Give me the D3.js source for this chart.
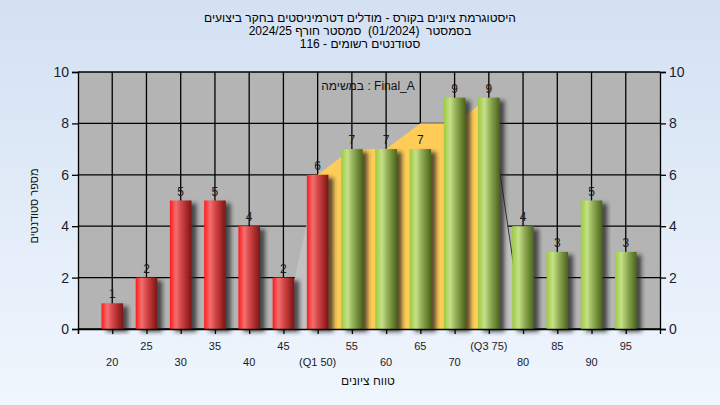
<!DOCTYPE html>
<html>
<head>
<meta charset="utf-8">
<script src="https://cdn.jsdelivr.net/npm/d3@7"></script>
<style>
  body { margin: 0; }
  svg text { font-family: "Liberation Sans", Arial, sans-serif; }
</style>
</head>
<body>
<div id="chart"></div>
<script>
// grades (bin centres) and student counts
const scores = [20, 25, 30, 35, 40, 45, 50, 55, 60, 65, 70, 75, 80, 85, 90, 95];
const counts = [1, 2, 5, 5, 4, 2, 6, 7, 7, 7, 9, 9, 4, 3, 5, 3];
const tickLabels = ["20", "25", "30", "35", "40", "45", "(Q1 50)", "55", "60", "65", "70", "(Q3 75)", "80", "85", "90", "95"];
// background shape, quartile band filled between Q1 and Q3
const curveScores = [45, 50, 55, 60, 65, 70, 75, 80];
const curveValues = [0, 6, 7, 7, 8, 8, 9, 0];
const q1 = 50, q3 = 75;
const yTicks = [0, 2, 4, 6, 8, 10];
const titleLines = [
  "היסטוגרמת ציונים בקורס - מודלים דטרמיניסטים בחקר ביצועים",
  "בסמסטר  (01/2024)  סמסטר חורף 2024/25",
  "סטודנטים רשומים - 116"
];

const width = 720, height = 405;
const plotLeft = 78, plotRight = 660, plotTop = 72, plotBottom = 329;

const svg = d3.select("#chart").append("svg")
  .attr("width", width).attr("height", height);

const defs = svg.append("defs");
const bg = defs.append("linearGradient").attr("id", "bg")
  .attr("x1", 0).attr("y1", 0).attr("x2", 0).attr("y2", 1);
bg.append("stop").attr("offset", "0%").attr("stop-color", "#d3e1f3");
bg.append("stop").attr("offset", "100%").attr("stop-color", "#f0f6fd");

function barGradient(id, stops) {
  const g = defs.append("linearGradient").attr("id", id)
    .attr("x1", 0).attr("y1", 0).attr("x2", 1).attr("y2", 0);
  stops.forEach(s => g.append("stop").attr("offset", s[0]).attr("stop-color", s[1]));
}
barGradient("red", [["0%", "#ff1c1c"], ["28%", "#f07070"], ["50%", "#d84848"], ["100%", "#7c1414"]]);
barGradient("green", [["0%", "#9ccc3c"], ["30%", "#c6e08a"], ["55%", "#94b058"], ["100%", "#4a6418"]]);

const shadow = defs.append("filter").attr("id", "shadow")
  .attr("x", "-20%").attr("y", "-10%").attr("width", "160%").attr("height", "130%");
shadow.append("feDropShadow").attr("dx", 5).attr("dy", 3).attr("stdDeviation", 2)
  .attr("flood-color", "#222").attr("flood-opacity", 0.75);

svg.append("rect").attr("width", width).attr("height", height).attr("fill", "url(#bg)");

const x = d3.scaleLinear().domain([15, 100]).range([plotLeft, plotRight]);
const y = d3.scaleLinear().domain([0, 10]).range([plotBottom, plotTop]);
const barW = (x(20) - x(15)) * 0.63;

// plot background
svg.append("rect").attr("x", plotLeft).attr("y", plotTop)
  .attr("width", plotRight - plotLeft).attr("height", plotBottom - plotTop).attr("fill", "#b4b4b4");

// grid
svg.append("g").selectAll("line").data(yTicks).enter().append("line")
  .attr("x1", plotLeft).attr("x2", plotRight).attr("y1", d => y(d)).attr("y2", d => y(d))
  .attr("stroke", "#000").attr("stroke-width", 1.3);
svg.append("g").selectAll("line").data(scores).enter().append("line")
  .attr("x1", d => x(d)).attr("x2", d => x(d)).attr("y1", plotTop).attr("y2", plotBottom)
  .attr("stroke", "#000").attr("stroke-width", 1.3);

// background curve
const curve = curveScores.map((s, i) => ({ s: s, v: curveValues[i] }));
const area = d3.area().x(d => x(d.s)).y0(y(0)).y1(d => y(d.v));
svg.append("path").datum(curve).attr("d", area).attr("fill", "#c2c2c2");
svg.append("path").datum(curve.filter(d => d.s >= q1 && d.s <= q3))
  .attr("d", area).attr("fill", "#ffcc58");
svg.append("path").datum(curve.filter(d => d.s >= q3))
  .attr("d", d3.line().x(d => x(d.s)).y(d => y(d.v)))
  .attr("fill", "none").attr("stroke", "#333").attr("stroke-width", 1);

// bars
const data = scores.map((s, i) => ({ s: s, c: counts[i] }));
svg.append("g").selectAll("rect").data(data).enter().append("rect")
  .attr("x", d => x(d.s) - barW / 2)
  .attr("y", d => y(d.c))
  .attr("width", barW)
  .attr("height", d => y(0) - y(d.c))
  .attr("fill", d => d.s <= q1 ? "url(#red)" : "url(#green)")
  .attr("filter", "url(#shadow)");

svg.append("g").selectAll("text").data(data).enter().append("text")
  .attr("x", d => x(d.s)).attr("y", d => y(d.c) - 5)
  .attr("text-anchor", "middle").attr("font-size", 12).attr("fill", "#1a1a1a")
  .text(d => d.c);

// axes
const axisLeft = svg.append("g").attr("transform", `translate(${plotLeft},0)`)
  .call(d3.axisLeft(y).tickValues(yTicks).tickSize(6).tickPadding(3));
const axisRight = svg.append("g").attr("transform", `translate(${plotRight},0)`)
  .call(d3.axisRight(y).tickValues(yTicks).tickSize(6).tickPadding(3));
[axisLeft, axisRight].forEach(a => {
  a.select(".domain").attr("stroke", "#000").attr("stroke-width", 1.3);
  a.selectAll(".tick line").attr("stroke", "#000").attr("stroke-width", 1.3);
  a.selectAll("text").attr("font-size", 14).attr("fill", "#1c1c30")
    .style("font-family", "'Liberation Sans', Arial, sans-serif");
});

const axisBottom = svg.append("g").attr("transform", `translate(0,${plotBottom})`)
  .call(d3.axisBottom(x).tickValues([15].concat(scores)).tickSize(5).tickFormat(""));
axisBottom.select(".domain").attr("stroke", "#000").attr("stroke-width", 1.3);
axisBottom.selectAll(".tick line").attr("stroke", "#000").attr("stroke-width", 1.3);

svg.append("g").selectAll("text").data(scores).enter().append("text")
  .attr("x", d => x(d))
  .attr("y", (d, i) => i % 2 === 0 ? 366 : 350)
  .attr("text-anchor", "middle").attr("font-size", 11).attr("fill", "#1a1a2a")
  .text((d, i) => tickLabels[i]);

// titles
svg.append("g").selectAll("text").data(titleLines).enter().append("text")
  .attr("x", 360).attr("y", (d, i) => 22 + i * 13)
  .attr("text-anchor", "middle").attr("direction", "rtl").attr("font-size", 12)
  .style("white-space", "pre")
  .attr("fill", "#000").text(d => d);

svg.append("text").attr("x", 368).attr("y", 90)
  .attr("text-anchor", "middle").attr("direction", "rtl").attr("font-size", 12)
  .attr("fill", "#111").text("Final_A : במשימה");

svg.append("text").attr("x", 368).attr("y", 385)
  .attr("text-anchor", "middle").attr("direction", "rtl").attr("font-size", 12)
  .attr("fill", "#111").text("טווח ציונים");

svg.append("text").attr("transform", "translate(38,206) rotate(-90)")
  .attr("text-anchor", "middle").attr("direction", "rtl").attr("font-size", 11)
  .attr("fill", "#111").text("מספר סטודנטים");
</script>
</body>
</html>
